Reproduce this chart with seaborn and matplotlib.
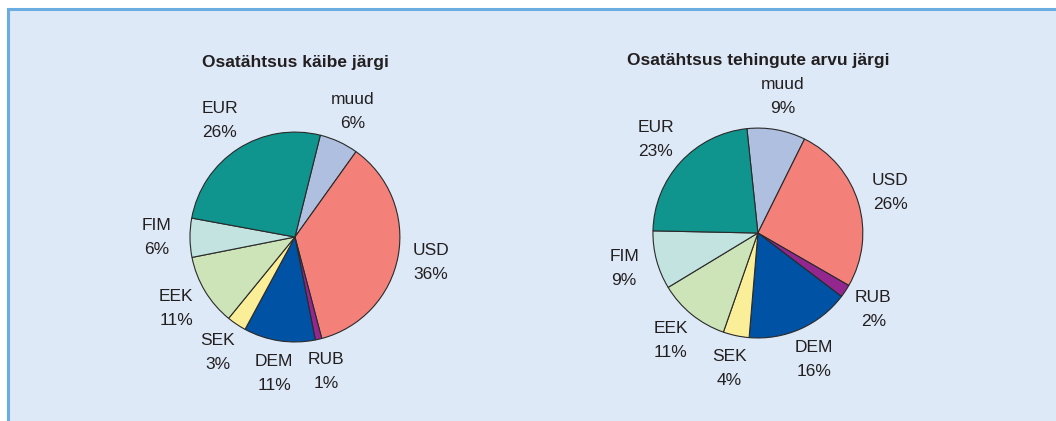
import matplotlib
matplotlib.use("Agg")
import matplotlib.pyplot as plt
import matplotlib.patches as mpatches
import seaborn as sns

# andmed
currencies = ["muud", "USD", "RUB", "DEM", "SEK", "EEK", "FIM", "EUR"]
share_turnover = [6, 36, 1, 11, 3, 11, 6, 26]
share_count = [9, 26, 2, 16, 4, 11, 9, 23]
titles = ["Osatähtsus käibe järgi", "Osatähtsus tehingute arvu järgi"]

colors = ["#aebfdf", "#f4807a", "#93278f", "#0052a4", "#fbee98",
          "#cde4b9", "#c3e3e1", "#10948e"]
bg = "#dde9f7"
border = "#6aade2"

sns.set_theme(style="white")
plt.rcParams["font.family"] = ["Liberation Sans", "DejaVu Sans"]

fig = plt.figure(figsize=(10.56, 4.21), dpi=100)
fig.patch.set_facecolor("white")

# taust ja raam
W, H = 1056, 421
fig.patches.append(mpatches.Rectangle((8 / W, -0.1), 1.2, (H - 9) / H + 0.1,
                                      transform=fig.transFigure,
                                      facecolor=bg, edgecolor=border,
                                      linewidth=2.2, zorder=-5))


def draw_pie(rect, values, start, title, title_y):
    ax = fig.add_axes(rect)
    labels = [f"{c}\n{v}%" for c, v in zip(currencies, values)]
    wedges, texts = ax.pie(values, labels=labels, colors=colors,
                           startangle=start, counterclock=False,
                           labeldistance=1.32,
                           wedgeprops=dict(edgecolor="#2a2a2a", linewidth=0.8),
                           textprops=dict(fontsize=12.5, color="#231f20",
                                          linespacing=1.75))
    for t in texts:
        t.set_ha("center")
        t.set_va("center")
    ax.set_xlim(-1.6, 1.6)
    ax.set_ylim(-1.6, 1.6)
    ax.set_aspect("equal")
    ax.axis("off")
    cx = rect[0] + rect[2] / 2
    fig.text(cx, title_y, title, ha="center", va="center",
             fontsize=12.5, fontweight="bold", color="#231f20")


draw_pie([0.1203, 0.038, 0.318, 0.798], share_turnover, 76, titles[0], 1 - 62 / H)
draw_pie([0.5587, 0.0475, 0.318, 0.798], share_count, 96, titles[1], 1 - 60 / H)

fig.savefig("out.png", dpi=100, facecolor=fig.get_facecolor())
